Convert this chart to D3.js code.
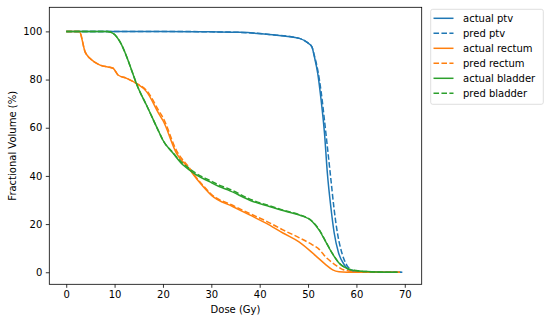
<!DOCTYPE html>
<html>
<head>
<meta charset="utf-8">
<script src="https://cdn.jsdelivr.net/npm/d3@7"></script>
<style>
  body { margin: 0; background: #fff; }
  svg { font-family: "DejaVu Sans", sans-serif; }
</style>
</head>
<body>
<div class="chart"></div>
<script>
// Data.
const ptvDose = [0, 20, 30, 36, 42, 48.2, 49.9, 50.8, 51.3, 52, 52.7, 53.4, 54, 54.7, 55.4, 56.3, 57.5, 58.5, 60, 69.3];
const ptvActual = [100, 100, 99.8, 99.6, 98.7, 97.1, 95.3, 93.6, 89.5, 82.6, 71.5, 57.7, 41, 27.3, 16.4, 8.1, 3.1, 1, 0.2, 0];

const ptvPredDose = [0, 20, 30, 36, 42, 48.2, 49.9, 50.8, 51.3, 52, 52.7, 53.4, 54, 54.7, 55.4, 56.1, 57, 58, 59, 60.5, 69.5];
const ptvPred = [100, 100, 99.8, 99.6, 98.7, 97.1, 95.3, 93.6, 90, 84, 75, 63, 52, 39, 26, 16, 8, 3, 1, 0.2, 0];

const rectumDose = [0, 2.7, 3.9, 4.9, 7.0, 9.7, 10.7, 12.5, 14.5, 16.6, 19.3, 20, 22.8, 25.5, 26.2, 28.3, 30.1, 34.4, 37.9, 41.3, 44.8, 48.2, 51.6, 53.7, 55.1, 56.4, 58, 69];
const rectumActual = [100, 100, 91.5, 88.8, 86, 84.7, 81.9, 80.5, 78.4, 75, 65.3, 63, 49.4, 42.8, 40.8, 35.6, 31.8, 27.3, 23.8, 20.4, 16.3, 12.5, 6.8, 3.1, 1, 0.2, 0, 0];

const rectumPredDose = [0, 2.7, 3.9, 4.9, 7.0, 9.7, 10.7, 12.5, 14.5, 16.6, 19.3, 20, 22.8, 25.5, 26.2, 28.3, 30.1, 34.4, 37.9, 41.3, 44.8, 48.2, 50.9, 52.3, 53.7, 55, 56, 57.1, 58.5, 60, 69];
const rectumPred = [100, 100, 91.5, 88.8, 86, 84.7, 81.9, 80.5, 78.4, 75.5, 66.5, 64.2, 50.5, 43.2, 41.2, 36, 32.2, 27.8, 24.4, 21.3, 17.6, 14.3, 11.4, 9.5, 6.2, 4, 2.5, 1.2, 0.5, 0.1, 0];

const bladderDose = [0, 8.5, 9.7, 11.1, 12.5, 13.5, 14.5, 16.9, 19.3, 20, 22.1, 24.1, 25.5, 26.9, 29.6, 31.6, 33.4, 38.6, 42, 45.5, 48.2, 50.9, 52.3, 53.7, 55.1, 56.4, 58.5, 60, 62, 64, 68.5];
const bladderActual = [100, 100, 99.2, 95.7, 89.5, 84, 78.4, 68.1, 57.7, 54.8, 49.4, 44.6, 42.4, 40.4, 37.6, 35.6, 34.2, 29.4, 27.3, 25.2, 23.8, 21, 17.5, 12.5, 7.5, 3.8, 1.2, 0.6, 0.3, 0.1, 0];
const bladderPred = [100, 100, 99.2, 95.7, 89.5, 84, 78.4, 68.1, 57.7, 54.8, 49.6, 45.2, 43, 41, 38.2, 36.2, 34.8, 29.9, 27.6, 25.4, 23.9, 21.1, 17.7, 12.6, 7.6, 3.9, 1.3, 0.7, 0.3, 0.1, 0];

const xTicks = [0, 10, 20, 30, 40, 50, 60, 70];
const yTicks = [0, 20, 40, 60, 80, 100];

const series = [
    { name: 'actual ptv', dose: ptvDose, vol: ptvActual, color: '#1f77b4', dashed: false },
    { name: 'pred ptv', dose: ptvPredDose, vol: ptvPred, color: '#1f77b4', dashed: true },
    { name: 'actual rectum', dose: rectumDose, vol: rectumActual, color: '#ff7f0e', dashed: false },
    { name: 'pred rectum', dose: rectumPredDose, vol: rectumPred, color: '#ff7f0e', dashed: true },
    { name: 'actual bladder', dose: bladderDose, vol: bladderActual, color: '#2ca02c', dashed: false },
    { name: 'pred bladder', dose: bladderDose, vol: bladderPred, color: '#2ca02c', dashed: true }
];

// SVG constants.
const width = 550;
const height = 323;
const plotLeft = 49.3, plotRight = 421.7, plotTop = 7.3, plotBottom = 284.3;

const xScale = d3.scaleLinear().domain([-3.5, 73.5]).range([plotLeft, plotRight]);
const yScale = d3.scaleLinear().domain([-5, 110]).range([plotBottom, plotTop]);

const svg = d3.select('.chart')
              .append('svg')
              .attr('width', width)
              .attr('height', height);

// Lines.
const line = d3.line()
               .x((d) => xScale(d[0]))
               .y((d) => yScale(d[1]))
               .curve(d3.curveMonotoneX);

series.forEach((s) => {
    svg.append('path')
       .datum(s.dose.map((x, i) => [x, s.vol[i]]))
       .attr('fill', 'none')
       .attr('stroke', s.color)
       .attr('stroke-width', 1.5)
       .attr('stroke-dasharray', s.dashed ? '5.55,2.4' : null)
       .attr('d', line);
});

// Axes.
const xAxis = d3.axisBottom(xScale).tickValues(xTicks).tickSize(3.5).tickPadding(3.5);
const yAxis = d3.axisLeft(yScale).tickValues(yTicks).tickSize(3.5).tickPadding(3.5);

const gx = svg.append('g')
              .attr('transform', 'translate(0,' + plotBottom + ')')
              .call(xAxis);
const gy = svg.append('g')
              .attr('transform', 'translate(' + plotLeft + ',0)')
              .call(yAxis);

[gx, gy].forEach((g) => {
    g.select('.domain').remove();
    g.selectAll('line').attr('stroke', '#000').attr('stroke-width', 0.8);
    g.selectAll('text').attr('fill', '#000').attr('font-size', '10px').attr('font-family', '"DejaVu Sans", sans-serif');
});

// Frame.
svg.append('rect')
   .attr('x', plotLeft)
   .attr('y', plotTop)
   .attr('width', plotRight - plotLeft)
   .attr('height', plotBottom - plotTop)
   .attr('fill', 'none')
   .attr('stroke', '#000')
   .attr('stroke-width', 0.8);

// Axis labels.
svg.append('text')
   .attr('x', (plotLeft + plotRight) / 2)
   .attr('y', 313)
   .attr('text-anchor', 'middle')
   .attr('font-size', '10px')
   .text('Dose (Gy)');

svg.append('text')
   .attr('transform', 'translate(15.5,' + (plotTop + plotBottom) / 2 + ') rotate(-90)')
   .attr('text-anchor', 'middle')
   .attr('font-size', '10px')
   .text('Fractional Volume (%)');

// Legend.
const legend = svg.append('g');
legend.append('rect')
      .attr('x', 430.7)
      .attr('y', 9.3)
      .attr('width', 112.6)
      .attr('height', 95)
      .attr('rx', 2)
      .attr('fill', '#fff')
      .attr('stroke', '#d6d6d6')
      .attr('stroke-width', 0.8);

series.forEach((s, i) => {
    const y = 18.3 + i * 15;
    legend.append('line')
          .attr('x1', 433.5)
          .attr('x2', 453.5)
          .attr('y1', y)
          .attr('y2', y)
          .attr('stroke', s.color)
          .attr('stroke-width', 1.5)
          .attr('stroke-dasharray', s.dashed ? '5.55,2.4' : null);
    legend.append('text')
          .attr('x', 463)
          .attr('y', y + 3.6)
          .attr('font-size', '10px')
          .text(s.name);
});
</script>
</body>
</html>
